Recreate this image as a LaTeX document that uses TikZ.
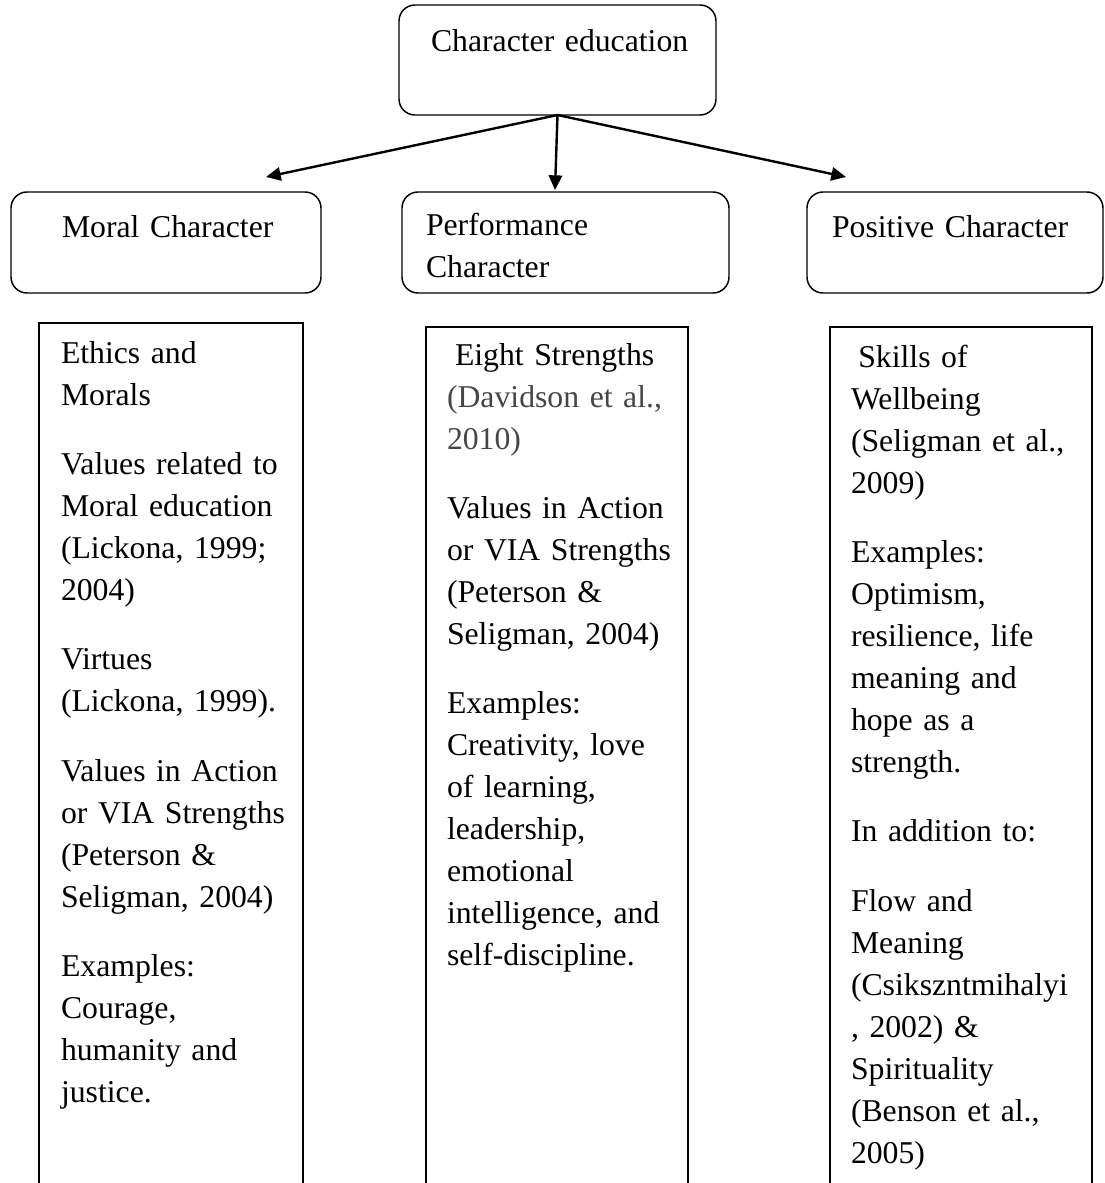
\documentclass[tikz,border=0pt]{standalone}
\usepackage{fontspec}
\setmainfont{Liberation Serif}
\usetikzlibrary{arrows.meta}
\definecolor{citegray}{RGB}{70,70,70}
\begin{document}
\begin{tikzpicture}[x=0.75pt,y=-0.75pt,
  every node/.style={inner sep=0pt, outer sep=0pt},
  body/.style={font=\fontsize{23.8pt}{31.5pt}\selectfont},
  roundbox/.style={draw, line width=1.1pt, rounded corners=12pt, rectangle},
  listbox/.style={draw, line width=1.1pt, rectangle},
  caption/.style={body, anchor=base west, align=left, text width=200pt},
  link/.style={line width=1.8pt, -{Triangle[length=11pt,width=10pt]}}
]
\useasboundingbox (0,0) rectangle (1105,1183);
\clip (0,0) rectangle (1105,1183);

% header boxes
\node[roundbox, minimum width=237.75pt, minimum height=82.5pt] (top) at (557.5,60) {};
\node[roundbox, minimum width=232.5pt, minimum height=75.75pt] (moral) at (166,242.5) {};
\node[roundbox, minimum width=245.25pt, minimum height=75.75pt] (perf) at (565.5,242.5) {};
\node[roundbox, minimum width=222pt, minimum height=75.75pt] (pos) at (955,242.5) {};

% list columns (run past the lower edge)
\node[listbox, minimum width=198pt, minimum height=665.25pt] (moralList) at (171,766.5) {};
\node[listbox, minimum width=196.5pt, minimum height=662.25pt] (perfList) at (557,768.5) {};
\node[listbox, minimum width=196.5pt, minimum height=662.25pt] (posList) at (961,768.5) {};

% header texts
\node[caption] (topText) at (431,51) {Character education};
\node[caption] (moralHead) at (62,237) {Moral Character};
\node[caption] (perfHead) at (426,235) {Performance\\Character};
\node[caption] (posHead) at (832,237) {Positive Character};

% arrows
\coordinate (tipL) at (266,177);
\coordinate (tipC) at (555,190);
\coordinate (tipR) at (846,177);
\draw[link] (top.south) -- (tipL);
\draw[link] (top.south) -- (tipC);
\draw[link] (top.south) -- (tipR);

% column texts
\node[caption] (moralText) at (61,363) {Ethics and\\Morals\\[20.6pt]
Values related to\\Moral education\\(Lickona, 1999;\\2004)\\[20.6pt]
Virtues\\(Lickona, 1999).\\[20.6pt]
Values in Action\\or VIA Strengths\\(Peterson \&\\Seligman, 2004)\\[20.6pt]
Examples:\\Courage,\\humanity and\\justice.};

\node[caption] (perfText) at (447,365) {\hspace*{6pt}Eight Strengths\\{\color{citegray}(Davidson et al.,}\\{\color{citegray}2010)}\\[20.6pt]
Values in Action\\or VIA Strengths\\(Peterson \&\\Seligman, 2004)\\[20.6pt]
Examples:\\Creativity, love\\of learning,\\leadership,\\emotional\\intelligence, and\\self-discipline.};

\node[caption] (posText) at (851,367) {\hspace*{5.5pt}Skills of\\Wellbeing\\(Seligman et al.,\\2009)\\[20.6pt]
Examples:\\Optimism,\\resilience, life\\meaning and\\hope as a\\strength.\\[20.6pt]
In addition to:\\[20.6pt]
Flow and\\Meaning\\(Csikszntmihalyi\\, 2002) \&\\Spirituality\\(Benson et al.,\\2005)};
\end{tikzpicture}
\end{document}
